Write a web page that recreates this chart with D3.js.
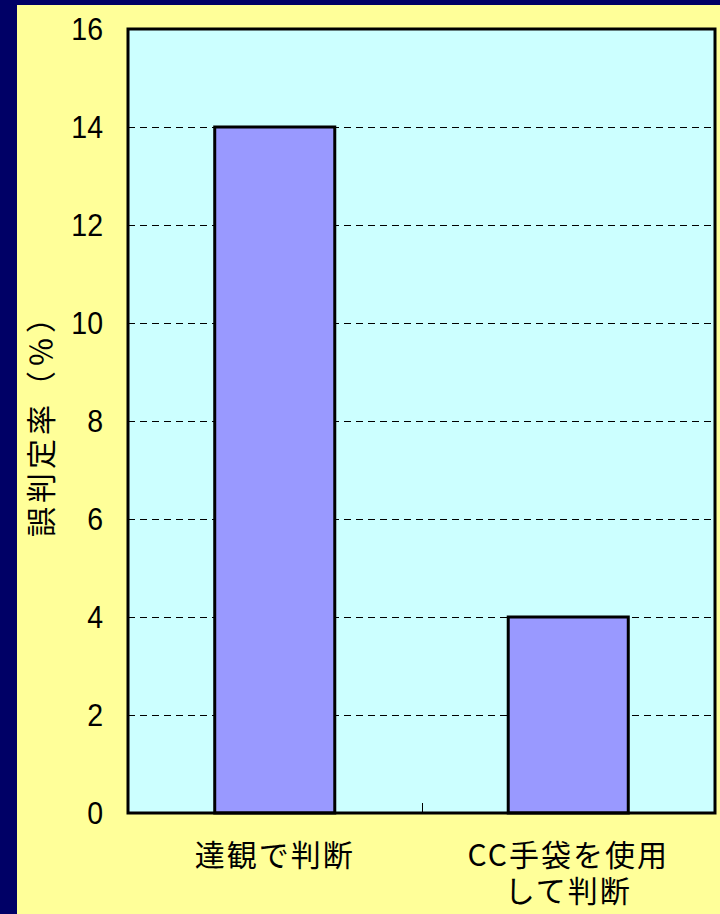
<!DOCTYPE html>
<html>
<head>
<meta charset="utf-8">
<script src="https://cdn.jsdelivr.net/npm/d3@7"></script>
<style>
  html, body { margin: 0; padding: 0; background: #000066; }
  svg { display: block; }
  text { text-spacing-trim: space-all; }
</style>
</head>
<body>
<svg id="chart" width="720" height="914"></svg>
<script>
// Error rate of judgement by method
const categories = [["達観で判断"], ["CC手袋を使用", "して判断"]];
const values = [14, 4];
const yTicks = [0, 2, 4, 6, 8, 10, 12, 14, 16];
const yTitle = "誤判定率（％）";

const W = 720, H = 914;
const plot = { left: 128, right: 715, top: 29, bottom: 813 };

const svg = d3.select("#chart");

// Navy frame with pale yellow panel
svg.append("rect").attr("width", W).attr("height", H).attr("fill", "#000066");
svg.append("rect").attr("x", 17).attr("y", 5).attr("width", W - 17).attr("height", H - 5).attr("fill", "#FFFF99");

const x = d3.scaleBand()
  .domain(d3.range(values.length))
  .range([plot.left, plot.right])
  .paddingInner(0.591)
  .paddingOuter(0.2955);

const y = d3.scaleLinear().domain([0, 16]).range([plot.bottom, plot.top]);

// Plot background
svg.append("rect")
  .attr("x", plot.left).attr("y", plot.top)
  .attr("width", plot.right - plot.left).attr("height", plot.bottom - plot.top)
  .attr("fill", "#CCFFFF");

// Dashed gridlines
svg.append("g")
  .attr("shape-rendering", "crispEdges")
  .selectAll("line")
  .data(yTicks.filter(t => t > 0 && t < 16))
  .join("line")
  .attr("x1", plot.left).attr("x2", plot.right)
  .attr("y1", d => Math.round(y(d)) + 0.5).attr("y2", d => Math.round(y(d)) + 0.5)
  .attr("stroke", "#000").attr("stroke-width", 1)
  .attr("stroke-dasharray", "7,5");

// Bars
svg.append("g")
  .selectAll("rect")
  .data(values)
  .join("rect")
  .attr("x", (d, i) => x(i))
  .attr("y", d => y(d))
  .attr("width", x.bandwidth())
  .attr("height", d => y(0) - y(d))
  .attr("fill", "#9999FF")
  .attr("stroke", "#000").attr("stroke-width", 3);

// Category divider tick on the baseline
const mid = Math.round((x(0) + x.bandwidth() / 2 + x(1) + x.bandwidth() / 2) / 2) + 0.5;
svg.append("line")
  .attr("x1", mid).attr("x2", mid)
  .attr("y1", plot.bottom - 10).attr("y2", plot.bottom)
  .attr("stroke", "#000").attr("stroke-width", 1);

// Plot border
svg.append("rect")
  .attr("x", plot.left).attr("y", plot.top)
  .attr("width", plot.right - plot.left).attr("height", plot.bottom - plot.top)
  .attr("fill", "none").attr("stroke", "#000").attr("stroke-width", 3);

// Y tick labels
svg.append("g")
  .selectAll("text")
  .data(yTicks)
  .join("text")
  .attr("transform", d => `translate(103,${y(d) + 11}) scale(0.92,1)`)
  .attr("text-anchor", "end")
  .attr("font-family", "'Liberation Sans', Arial, sans-serif")
  .attr("font-size", 31)
  .attr("fill", "#000")
  .text(d => d);

// Y axis title
svg.append("text")
  .attr("transform", `translate(52,418) rotate(-90)`)
  .attr("text-anchor", "middle")
  .attr("font-family", "'Noto Sans CJK JP', sans-serif")
  .attr("font-size", 30)
  .attr("letter-spacing", 4)
  .attr("fill", "#000")
  .text(yTitle);

// Category labels, one text per line
categories.forEach((lines, i) => {
  const cx = x(i) + x.bandwidth() / 2;
  svg.append("g")
    .selectAll("text")
    .data(lines)
    .join("text")
    .attr("x", cx)
    .attr("y", (d, j) => 866 + j * 36)
    .attr("text-anchor", "middle")
    .attr("font-family", "'Noto Sans CJK JP', sans-serif")
    .attr("font-size", 30)
    .attr("letter-spacing", 2)
    .attr("fill", "#000")
    .text(d => d);
});
</script>
</body>
</html>
